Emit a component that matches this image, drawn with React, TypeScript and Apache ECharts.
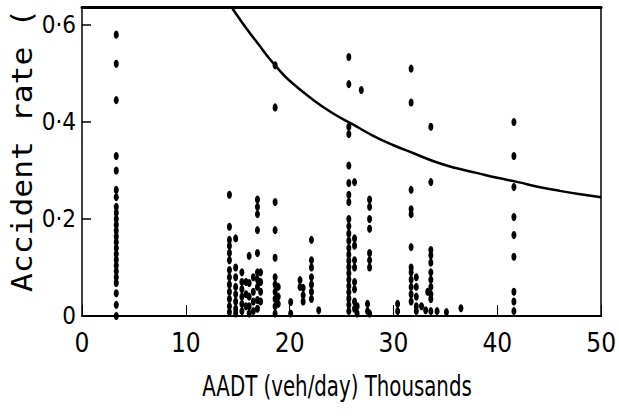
import React, { useEffect, useRef } from "react";
import * as echarts from "echarts";

// Tick labels
const xTicks = [0, 10, 20, 30, 40, 50];
const yTicks = [0, 0.2, 0.4, 0.6];

// Scatter columns: [AADT (thousands), accident rates...]
const col03 = [3.3, 0.58, 0.52, 0.445, 0.33, 0.3, 0.26, 0.245, 0.225, 0.213, 0.2, 0.188, 0.176, 0.164, 0.152, 0.14, 0.128, 0.116, 0.104, 0.092, 0.08, 0.068, 0.047, 0.023, 0.0];
const col142 = [14.2, 0.25, 0.184, 0.157, 0.145, 0.13, 0.115, 0.095, 0.08, 0.065, 0.05, 0.035, 0.02, 0.008];
const col148 = [14.8, 0.16, 0.1, 0.08, 0.06, 0.045, 0.03, 0.015, 0.005];
const col154 = [15.4, 0.09, 0.07, 0.055, 0.04, 0.025, 0.01];
const col158 = [15.8, 0.07, 0.045, 0.02];
const col161 = [16.1, 0.124, 0.068, 0.04, 0.02, 0.005];
const col165 = [16.5, 0.08, 0.05, 0.03, 0.01];
const col169 = [16.9, 0.24, 0.225, 0.21, 0.177, 0.13, 0.09, 0.075, 0.06, 0.033, 0.015];
const col172 = [17.2, 0.09, 0.07, 0.05, 0.03];
const col186 = [18.6, 0.517, 0.43, 0.235, 0.177, 0.12, 0.08, 0.065, 0.05, 0.035, 0.02, 0.005];
const col189 = [18.9, 0.06, 0.04, 0.025];
const col201 = [20.1, 0.029, 0.005];
const col210 = [21.0, 0.074, 0.06];
const col213 = [21.3, 0.058, 0.043, 0.03];
const col221 = [22.1, 0.157, 0.115, 0.1, 0.08, 0.065, 0.05, 0.035];
const col228 = [22.8, 0.012];
const col257 = [25.7, 0.534, 0.478, 0.39, 0.375, 0.31, 0.274, 0.25, 0.235, 0.2, 0.185, 0.17, 0.155, 0.14, 0.127, 0.114, 0.101, 0.088, 0.075, 0.062, 0.049, 0.036, 0.023, 0.01];
const col2625 = [26.25, 0.276, 0.16, 0.145, 0.115, 0.1, 0.07, 0.055, 0.03, 0.015];
const col265 = [26.5, 0.02, 0.005];
const col269 = [26.9, 0.466];
const col275 = [27.5, 0.025, 0.01];
const col277 = [27.7, 0.24, 0.225, 0.2, 0.18, 0.13, 0.115, 0.1, 0.005];
const col304 = [30.4, 0.025, 0.01];
const col317 = [31.7, 0.51, 0.44, 0.26, 0.22, 0.21, 0.142, 0.1, 0.09, 0.075, 0.06, 0.045, 0.03];
const col322 = [32.2, 0.08, 0.06, 0.04, 0.02, 0.01];
const col327 = [32.7, 0.02];
const col331 = [33.1, 0.012];
const col333 = [33.3, 0.05];
const col336 = [33.6, 0.39, 0.276, 0.136, 0.125, 0.11, 0.09, 0.075, 0.06, 0.045, 0.035, 0.01];
const col342 = [34.2, 0.01];
const col351 = [35.1, 0.008];
const col365 = [36.5, 0.016];
const col416 = [41.6, 0.4, 0.33, 0.266, 0.204, 0.167, 0.122, 0.05, 0.03, 0.01];

const columns = [col03, col142, col148, col154, col158, col161, col165, col169, col172, col186, col189, col201, col210, col213, col221, col228, col257, col2625, col265, col269, col275, col277, col304, col317, col322, col327, col331, col333, col336, col342, col351, col365, col416];

// Fitted curve
const curveX = [14.4, 15, 16, 17, 18, 19, 20, 22, 24, 26, 28, 30, 32, 34, 36, 38, 40, 42, 44, 46, 48, 50];
const curveY = [0.637, 0.618, 0.588, 0.56, 0.532, 0.507, 0.485, 0.45, 0.42, 0.396, 0.372, 0.352, 0.335, 0.318, 0.305, 0.295, 0.285, 0.276, 0.266, 0.258, 0.251, 0.245];

const X_MIN = 0;
const X_MAX = 50;
const Y_MIN = 0;
const Y_MAX = 0.637;

export default function App() {
  const ref = useRef<HTMLDivElement>(null);

  useEffect(() => {
    if (!ref.current) return;
    const chart = echarts.init(ref.current, null, { renderer: "svg" });

    const points: number[][] = [];
    columns.forEach((c) => {
      for (let i = 1; i < c.length; i++) points.push([c[0], c[i]]);
    });
    const curve = curveX.map((x, i) => [x, curveY[i]]);

    const labelFont = "'DejaVu Sans Condensed', 'DejaVu Sans', sans-serif";

    chart.setOption({
      animation: false,
      backgroundColor: "#ffffff",
      grid: { left: 82, right: 17, top: 7, bottom: 104, containLabel: false },
      xAxis: [
        {
          type: "value",
          min: X_MIN,
          max: X_MAX,
          interval: 10,
          axisLine: { show: true, onZero: false, lineStyle: { color: "#000", width: 2 } },
          axisTick: { show: true, inside: true, length: 11, lineStyle: { color: "#000", width: 1 } },
          axisLabel: {
            color: "#000",
            fontSize: 26,
            fontFamily: labelFont,
            margin: 14,
            showMinLabel: true,
            showMaxLabel: true,
            formatter: (v: number) => (xTicks.includes(v) ? String(v) : ""),
          },
          splitLine: { show: false },
        },
        {
          type: "value",
          position: "top",
          min: X_MIN,
          max: X_MAX,
          axisLine: { show: true, onZero: false, lineStyle: { color: "#000", width: 3 } },
          axisTick: { show: false },
          axisLabel: { show: false },
          splitLine: { show: false },
        },
      ],
      yAxis: [
        {
          type: "value",
          min: Y_MIN,
          max: Y_MAX,
          interval: 0.2,
          axisLine: { show: true, onZero: false, lineStyle: { color: "#000", width: 1.5 } },
          axisTick: { show: true, inside: true, length: 9, lineStyle: { color: "#000", width: 1.5 } },
          axisLabel: {
            color: "#000",
            fontSize: 24,
            fontFamily: labelFont,
            margin: 6,
            showMaxLabel: false,
            formatter: (v: number) => {
              const t = yTicks.find((y) => Math.abs(y - v) < 1e-6);
              if (t === undefined) return "";
              return t === 0 ? "0" : t.toFixed(1).replace(".", "·");
            },
          },
          splitLine: { show: false },
        },
        {
          type: "value",
          position: "right",
          min: Y_MIN,
          max: Y_MAX,
          axisLine: { show: true, onZero: false, lineStyle: { color: "#000", width: 1.5 } },
          axisTick: { show: false },
          axisLabel: { show: false },
          splitLine: { show: false },
        },
      ],
      series: [
        {
          type: "scatter",
          xAxisIndex: 0,
          yAxisIndex: 0,
          data: points,
          symbol: "circle",
          symbolSize: [5, 8],
          itemStyle: { color: "#000", opacity: 1 },
          clip: true,
        },
        {
          type: "line",
          xAxisIndex: 0,
          yAxisIndex: 0,
          data: curve,
          smooth: true,
          symbol: "none",
          lineStyle: { color: "#000", width: 2.5 },
          clip: true,
        },
      ],
      graphic: [
        {
          type: "text",
          x: 22,
          y: 292,
          rotation: Math.PI / 2,
          scaleX: 1.12,
          style: {
            text: "Accident rate (",
            fontSize: 28,
            fontFamily: "'DejaVu Sans Mono', monospace",
            textAlign: "left",
            textVerticalAlign: "middle",
            fill: "#000",
          },
        },
        {
          type: "text",
          x: 337,
          y: 386,
          scaleY: 1.3,
          style: {
            text: "AADT (veh/day) Thousands",
            fontSize: 22,
            fontFamily: "'DejaVu Sans Condensed', sans-serif",
            textAlign: "center",
            textVerticalAlign: "middle",
            fill: "#000",
          },
        },
      ],
    });

    return () => chart.dispose();
  }, []);

  return <div ref={ref} style={{ width: 619, height: 420, position: "absolute", left: 0, top: 0 }} />;
}
